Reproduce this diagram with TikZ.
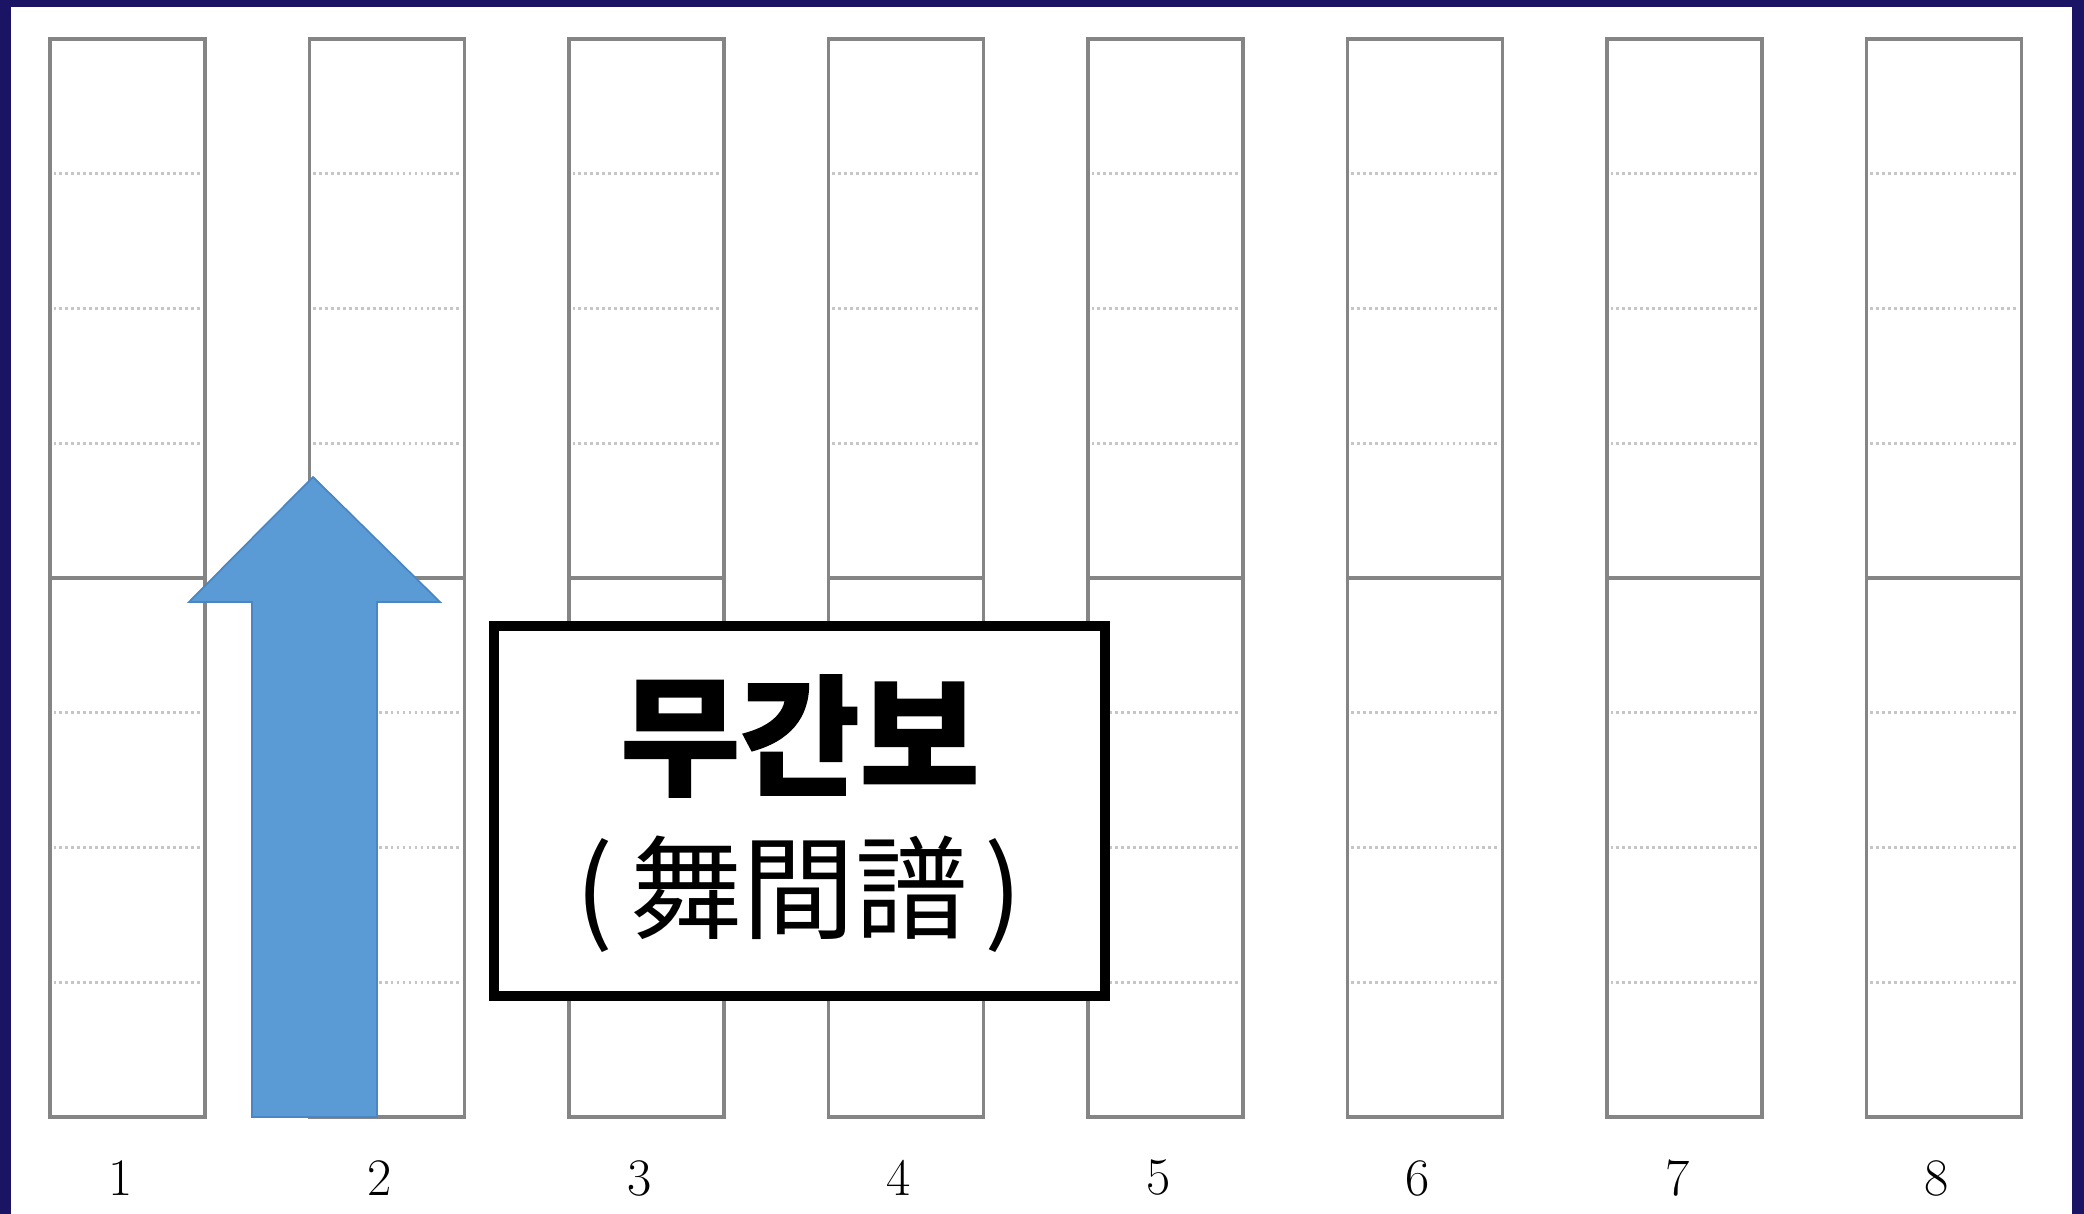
\documentclass[tikz,border=0pt]{standalone}
\usepackage{fontspec}
\newfontfamily\krfont[BoldFeatures={FakeBold=1.2}]{Noto Sans CJK KR}
\usetikzlibrary{positioning}
\definecolor{framenavy}{HTML}{1B1464}
\definecolor{arrowblue}{HTML}{5B9BD5}
\definecolor{arrowedge}{HTML}{4A86C4}
\definecolor{colgray}{HTML}{858585}
\tikzset{
	x=0.1mm, y=-0.1mm, % one unit is one pixel of the reference, y runs down
	column/.style={draw=colgray, line width=1.1pt, minimum width=15.5mm, minimum height=107.8mm, inner sep=0pt}, % one long strip
	dotline/.style={draw=gray!45, line width=0.8pt, dash pattern=on 0.8pt off 0.9pt}, % the faint row marks
	midline/.style={draw=colgray, line width=1.1pt},
	bigarrow/.style={fill=arrowblue, draw=arrowedge, line width=0.5pt},
	titlebox/.style={draw=black, line width=1mm, fill=white, minimum width=61.1mm, minimum height=37mm, inner sep=0pt},
	numlabel/.style={font=\fontsize{15pt}{17pt}\selectfont},
}

\begin{document}
\begin{tikzpicture}
	\useasboundingbox (0,0) rectangle (2084,1214);
	% frame round the page
	\fill[framenavy] (0,0) rectangle (2084,1214);
	\fill[white] (11,7) rectangle (2072,1214);
	% eight strips with their numbers
	\foreach \i in {1,...,8}{
		\pgfmathsetmacro{\cx}{127.5+(\i-1)*259.5}
		\node[column] (col\i) at (\cx,578) {};
		\foreach \k in {1,2,3,5,6,7}
			\draw[dotline] (\cx-74,39+\k*134.75) -- (\cx+74,39+\k*134.75);
		\draw[midline] (col\i.west) -- (col\i.east);
		\node[numlabel] (num\i) at (\cx-7,1178) {\i};
	}
	% the arrow going up
	\filldraw[bigarrow] (252,1117) -- (252,602) -- (189,602) -- (313,477)
		-- (440,602) -- (377,602) -- (377,1117) -- cycle;
	% the title
	\node[titlebox] (title) at (799.5,811) {};
	\node[font=\krfont\bfseries\fontsize{37pt}{40pt}\selectfont] (hangul) at (800,736) {무간보};
	\node[font=\krfont\fontsize{32pt}{36pt}\selectfont] (hanja) at (799,894) {(\hspace{0.15em}舞間譜\hspace{0.15em})};
\end{tikzpicture}
\end{document}
